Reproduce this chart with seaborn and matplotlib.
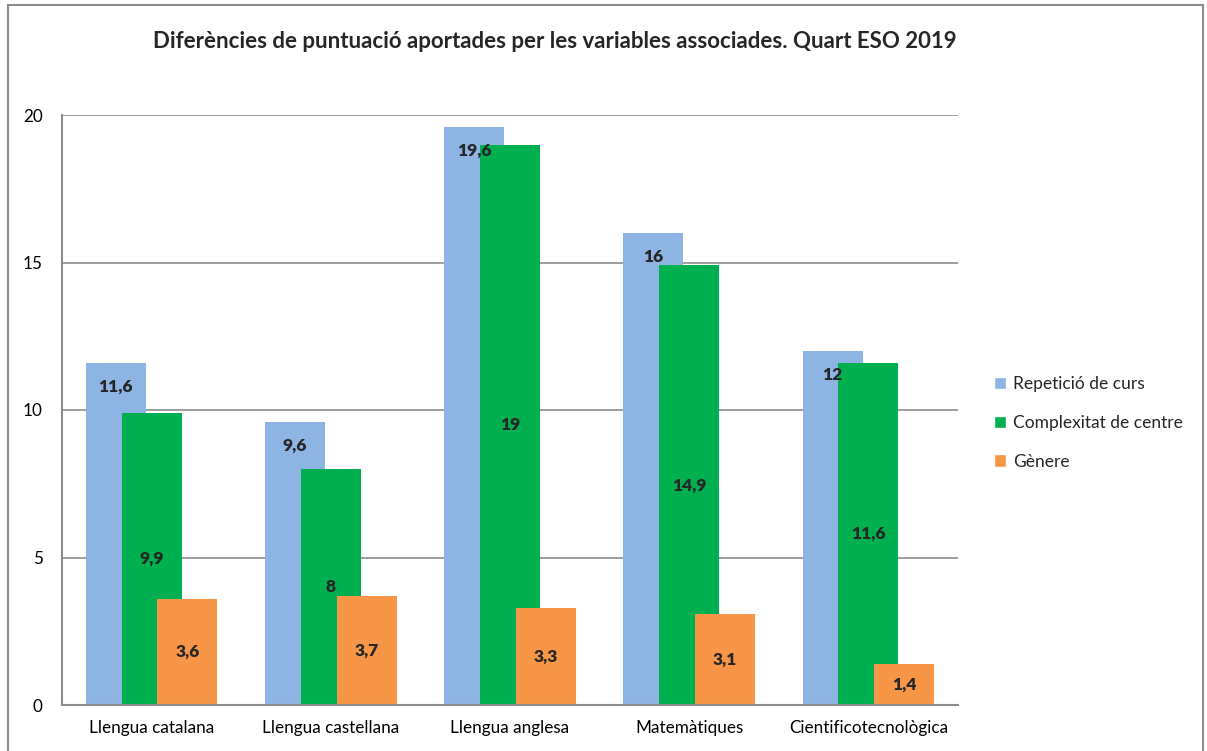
import numpy as np
import pandas as pd
import seaborn as sns
import matplotlib.pyplot as plt
from matplotlib.patches import Rectangle

# dades llegides del gràfic
assignatures = ['Llengua catalana', 'Llengua castellana', 'Llengua anglesa',
                'Matemàtiques', 'Cientificotecnològica']
repeticio = [11.6, 9.6, 19.6, 16, 12]
complexitat = [9.9, 8, 19, 14.9, 11.6]
genere = [3.6, 3.7, 3.3, 3.1, 1.4]
series = ['Repetició de curs', 'Complexitat de centre', 'Gènere']
colors = ['#8EB4E3', '#00B050', '#F79646']
y_ticks = [0, 5, 10, 15, 20]

df = pd.DataFrame({'assignatura': assignatures,
                   series[0]: repeticio,
                   series[1]: complexitat,
                   series[2]: genere})
df_long = df.melt(id_vars='assignatura', var_name='variable', value_name='valor')

sns.set_style('white')
plt.rcParams['font.family'] = ['Lato', 'DejaVu Sans']

fig = plt.figure(figsize=(12.07, 7.51), dpi=100)
ax = fig.add_axes([62 / 1207, 1 - 705 / 751, (958 - 62) / 1207, (705 - 115) / 751])

sns.barplot(data=df_long, x='assignatura', y='valor', hue='variable',
            hue_order=series, palette=colors, width=0.6, saturation=1,
            errorbar=None, ax=ax, legend=True)

# barres solapades a l'estil Excel: eixamplar cada barra al voltant del seu centre
new_w = 0.335
for bar_container in ax.containers:
    for p in bar_container:
        cx = p.get_x() + p.get_width() / 2
        p.set_width(new_w)
        p.set_x(cx - new_w / 2)
        p.set_linewidth(0)

# etiquetes de dades
def fmt(v):
    return f'{v:g}'.replace('.', ',')

for i, cont in enumerate(ax.containers):
    for p, v in zip(cont, df[series[i]]):
        cx = p.get_x() + p.get_width() / 2
        if i == 0:
            ax.annotate(fmt(v), (cx, v), xytext=(0, -17), textcoords='offset points',
                        ha='center', va='center', fontsize=12.5, fontweight='heavy')
        else:
            ax.text(cx, v / 2, fmt(v), ha='center', va='center',
                    fontsize=12.5, fontweight='heavy')

ax.set_ylim(0, 20)
ax.set_xlim(-0.5, len(assignatures) - 0.5)
ax.set_yticks(y_ticks)
ax.set_yticklabels([str(t) for t in y_ticks])
ax.yaxis.grid(True, color='#8c8c8c', linewidth=1.2)
ax.set_axisbelow(True)
ax.set_xlabel('')
ax.set_ylabel('')
ax.tick_params(axis='both', length=0, labelsize=12.3, colors='black')
ax.tick_params(axis='y', pad=14)
ax.tick_params(axis='x', pad=11)
for s in ['top', 'right']:
    ax.spines[s].set_visible(False)
for s in ['left', 'bottom']:
    ax.spines[s].set_color('#8c8c8c')
    ax.spines[s].set_linewidth(1.5)

leg = ax.legend(loc='center left', bbox_to_anchor=(1.03, 0.478), frameon=False,
                fontsize=12.5, handlelength=0.7, handleheight=0.7, borderpad=0,
                handletextpad=0.4, labelspacing=1.3)

fig.text(555 / 1207, 1 - 42 / 751,
         'Diferències de puntuació aportades per les variables associades. Quart ESO 2019',
         ha='center', va='center', fontsize=16, fontweight='bold')

# marc del gràfic
fig.patches.append(Rectangle((8 / 1207, -0.02), (1203 - 8) / 1207, 1 - 5 / 751 + 0.02,
                             transform=fig.transFigure, fill=False,
                             edgecolor='#8c8c8c', linewidth=1.5))

fig.savefig('out.png', dpi=100)
